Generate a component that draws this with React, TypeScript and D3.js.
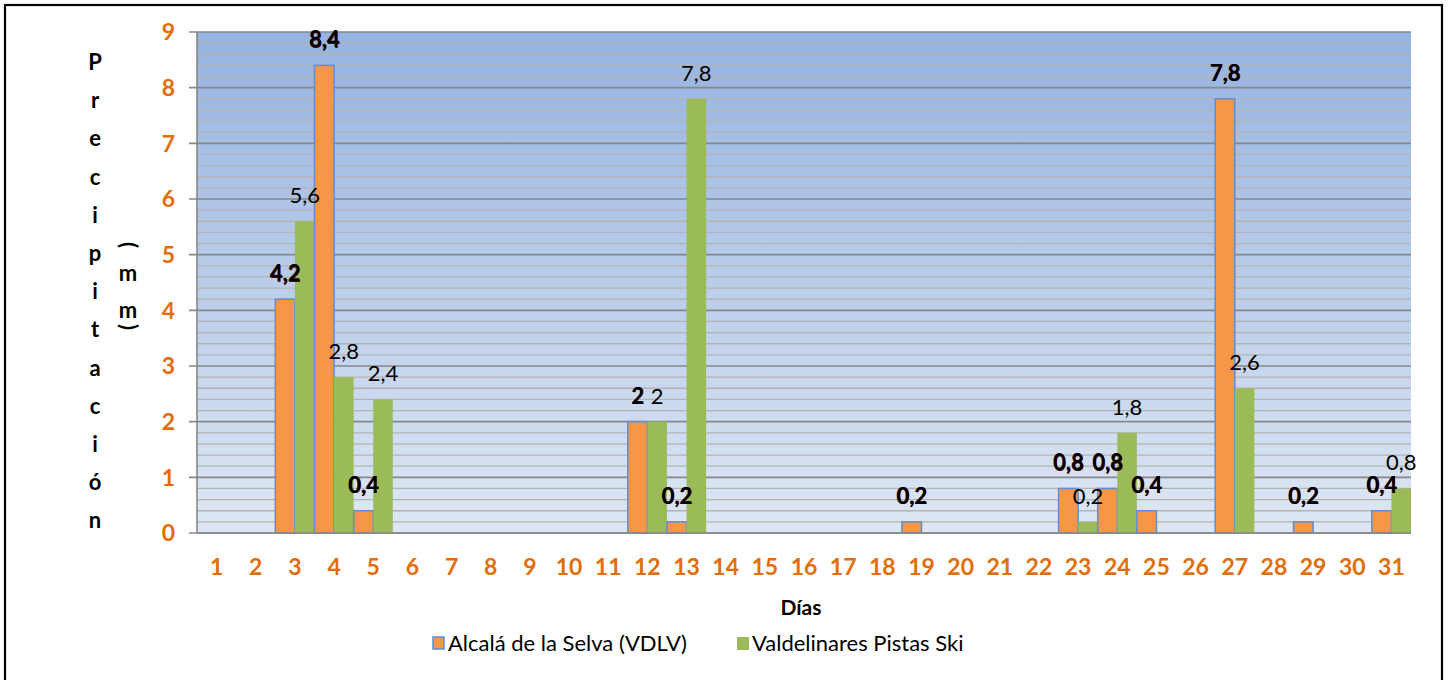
import React from "react";
import * as d3 from "d3";

const days: string[] = Array.from({ length: 31 }, (_, i) => String(i + 1));
const alcala: number[] = [0, 0, 4.2, 8.4, 0.4, 0, 0, 0, 0, 0, 0, 2, 0.2, 0, 0, 0, 0, 0, 0.2, 0, 0, 0, 0.8, 0.8, 0.4, 0, 7.8, 0, 0.2, 0, 0.4];
const valdelinares: number[] = [0, 0, 5.6, 2.8, 2.4, 0, 0, 0, 0, 0, 0, 2, 7.8, 0, 0, 0, 0, 0, 0, 0, 0, 0, 0.2, 1.8, 0, 0, 2.6, 0, 0, 0, 0.8];
const yTicks: number[] = [0, 1, 2, 3, 4, 5, 6, 7, 8, 9];
const seriesNames: string[] = ["Alcalá de la Selva (VDLV)", "Valdelinares Pistas Ski"];
const yTitle = "Precipitación";
const yUnit = "(mm)";
const xTitle = "Días";

const W = 1449;
const H = 680;
const FONT = "Lato, 'Open Sans', sans-serif";
const ORANGE = "#F79646";
const GREEN = "#9BBB59";
const TICK_ORANGE = "#E46C0A";

const fmt = (v: number) => String(v).replace(".", ",");

export default function App() {
  const left = 197, right = 1411, top = 32, bottom = 533;
  const x = d3.scaleBand<string>().domain(days).range([left, right]).padding(0);
  const y = d3.scaleLinear().domain([0, 9]).range([bottom, top]);
  const bw = x.bandwidth() / 2;
  const minor = d3.range(0, 45).map((i) => i / 5).filter((v) => Math.abs(v - Math.round(v)) > 1e-6);

  return (
    <svg width={W} height={H} style={{ position: "absolute", left: 0, top: 0, background: "#fff" }} fontFamily={FONT}>
      <defs>
        <linearGradient id="bg" x1="0" y1="0" x2="0" y2="1">
          <stop offset="0%" stopColor="#95B3E0" />
          <stop offset="100%" stopColor="#DEE7F4" />
        </linearGradient>
      </defs>
      <rect x={0} y={0} width={W} height={H} fill="#fff" />
      <rect x={5} y={5} width={1437} height={720} fill="none" stroke="#000" strokeWidth={2.2} />
      <rect x={left} y={top} width={right - left} height={bottom - top} fill="url(#bg)" />
      {minor.map((v) => (
        <line key={"m" + v} x1={left} x2={right} y1={y(v)} y2={y(v)} stroke="#B3B3B3" strokeWidth={1.3} />
      ))}
      {yTicks.map((v) => (
        <line key={"M" + v} x1={left - 8} x2={right} y1={y(v)} y2={y(v)} stroke="#878787" strokeWidth={1.6} />
      ))}
      <line x1={left} x2={left} y1={top} y2={bottom} stroke="#878787" strokeWidth={1.6} />
      {yTicks.map((v) => (
        <text key={"yt" + v} x={175} y={y(v)} dy="0.36em" textAnchor="end" fill={TICK_ORANGE} fontWeight="bold" fontSize={23}>
          {v}
        </text>
      ))}
      {days.map((d, i) => (
        <g key={"bar" + d}>
          {alcala[i] > 0 && (
            <rect x={x(d)!} y={y(alcala[i])} width={bw} height={y(0) - y(alcala[i])} fill={ORANGE} stroke="#5B8FD6" strokeWidth={1.5} />
          )}
          {valdelinares[i] > 0 && (
            <rect x={x(d)! + bw} y={y(valdelinares[i])} width={bw} height={y(0) - y(valdelinares[i])} fill={GREEN} />
          )}
        </g>
      ))}
      <line x1={left} x2={right} y1={bottom} y2={bottom} stroke="#878787" strokeWidth={1.6} />
      {days.map((d, i) => (
        <g key={"lab" + d}>
          {alcala[i] > 0 && (
            <text x={x(d)! + bw / 2} y={y(alcala[i]) - 18} textAnchor="middle" fontWeight="bold" fontSize={22} fill="#000" style={{ textShadow: "0.6px 0.6px 0 #5a0000" }}>
              {fmt(alcala[i])}
            </text>
          )}
          {valdelinares[i] > 0 && (
            <text x={x(d)! + bw * 1.5} y={y(valdelinares[i]) - 18} textAnchor="middle" fontSize={22} fill="#000">
              {fmt(valdelinares[i])}
            </text>
          )}
        </g>
      ))}
      {days.map((d) => (
        <text key={"xt" + d} x={x(d)! + x.bandwidth() / 2} y={575} textAnchor="middle" fill={TICK_ORANGE} fontWeight="bold" fontSize={23}>
          {d}
        </text>
      ))}
      {yTitle.split("").map((c, i) => (
        <text key={"yc" + i} x={95} y={70 + i * 38.2} textAnchor="middle" fontWeight="bold" fontSize={22} fill="#000">
          {c}
        </text>
      ))}
      <text x={128} y={245} textAnchor="middle" dy="0.3em" fontWeight="bold" fontSize={22} transform="rotate(90 128 245)">{yUnit[0]}</text>
      <text x={128} y={281} textAnchor="middle" fontWeight="bold" fontSize={22}>{yUnit[1]}</text>
      <text x={128} y={318} textAnchor="middle" fontWeight="bold" fontSize={22}>{yUnit[2]}</text>
      <text x={128} y={327} textAnchor="middle" dy="0.3em" fontWeight="bold" fontSize={22} transform="rotate(90 128 327)">{yUnit[3]}</text>
      <text x={801} y={615} textAnchor="middle" fontWeight="bold" fontSize={21} fill="#000">{xTitle}</text>
      <rect x={433} y={637} width={11} height={12} fill={ORANGE} stroke="#5B8FD6" strokeWidth={1.5} />
      <text x={448} y={651} fontSize={22} fill="#000">{seriesNames[0]}</text>
      <rect x={737} y={637} width={12} height={13} fill={GREEN} />
      <text x={752} y={651} fontSize={22} fill="#000">{seriesNames[1]}</text>
    </svg>
  );
}
